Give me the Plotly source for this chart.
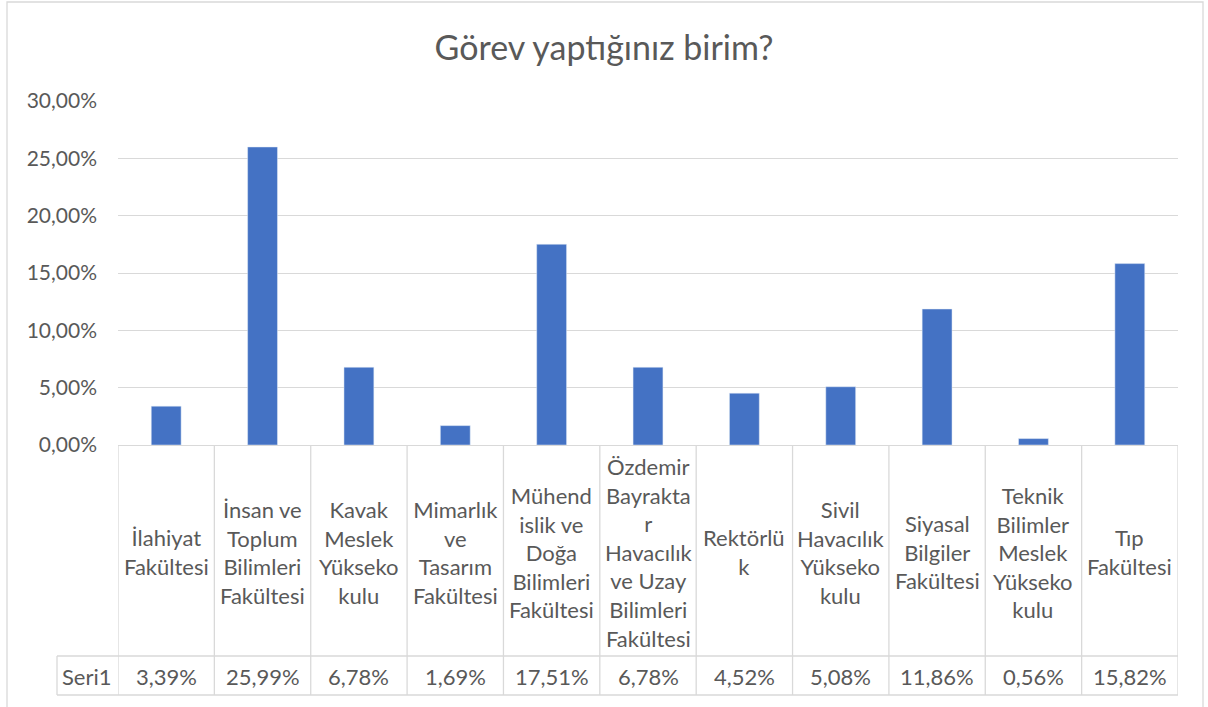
import plotly.graph_objects as go

categories = [
    "İlahiyat<br>Fakültesi",
    "İnsan ve<br>Toplum<br>Bilimleri<br>Fakültesi",
    "Kavak<br>Meslek<br>Yükseko<br>kulu",
    "Mimarlık<br>ve<br>Tasarım<br>Fakültesi",
    "Mühend<br>islik ve<br>Doğa<br>Bilimleri<br>Fakültesi",
    "Özdemir<br>Bayrakta<br>r<br>Havacılık<br>ve Uzay<br>Bilimleri<br>Fakültesi",
    "Rektörlü<br>k",
    "Sivil<br>Havacılık<br>Yükseko<br>kulu",
    "Siyasal<br>Bilgiler<br>Fakültesi",
    "Teknik<br>Bilimler<br>Meslek<br>Yükseko<br>kulu",
    "Tıp<br>Fakültesi",
]
values = [0.0339, 0.2599, 0.0678, 0.0169, 0.1751, 0.0678, 0.0452, 0.0508, 0.1186, 0.0056, 0.1582]
series_name = "Seri1"
title = "Görev yaptığınız birim?"

W, H = 1208, 707
L, R, T, B = 118, 1178, 101, 445   # plot area in pixels
font = "Lato"
grey_text = "#595959"
line_col = "#D9D9D9"


def py(pix):
    # pixel row -> paper y
    return (B - pix) / (B - T)


def px_(pix):
    return (pix - L) / (R - L)


n = len(categories)
xs = list(range(n))

fig = go.Figure(go.Bar(
    x=xs, y=values, marker_color="#4472C4", width=0.31, name=series_name,
))

shapes = []
# vertical table lines at category boundaries
for i in range(n + 1):
    shapes.append(dict(type="line", xref="x", yref="paper", x0=i - 0.5, x1=i - 0.5,
                       y0=py(445), y1=py(695), line=dict(color=line_col, width=1.3)))
# horizontal lines of value row
for yy in (656, 695):
    shapes.append(dict(type="line", xref="paper", yref="paper", x0=px_(57), x1=1,
                       y0=py(yy), y1=py(yy), line=dict(color=line_col, width=1.3)))
shapes.append(dict(type="line", xref="paper", yref="paper", x0=px_(57), x1=px_(57),
                   y0=py(656), y1=py(695), line=dict(color=line_col, width=1.3)))
# chart border
shapes.append(dict(type="rect", xref="paper", yref="paper", x0=px_(7), x1=px_(1203),
                   y0=py(712), y1=py(2), line=dict(color=line_col, width=1.3)))

annotations = []
for i, (c, v) in enumerate(zip(categories, values)):
    annotations.append(dict(x=i, xref="x", y=py(552), yref="paper", text=c, showarrow=False,
                            xanchor="center", yanchor="middle", align="center",
                            font=dict(family=font, size=22, color=grey_text)))
    annotations.append(dict(x=i, xref="x", y=py(676), yref="paper",
                            text=f"{v * 100:.2f}%".replace(".", ","), showarrow=False,
                            xanchor="center", yanchor="middle",
                            font=dict(family=font, size=22, color=grey_text)))
annotations.append(dict(x=px_(87), xref="paper", y=py(676), yref="paper", text=series_name,
                        showarrow=False, xanchor="center", yanchor="middle",
                        font=dict(family=font, size=22, color=grey_text)))

fig.update_layout(
    width=W, height=H,
    margin=dict(l=L, r=W - R, t=T, b=H - B),
    paper_bgcolor="white", plot_bgcolor="white",
    separators=",.",
    title=dict(text=title, x=0.5, xanchor="center", y=1 - 48 / H, yanchor="middle",
               font=dict(family=font, size=34, color=grey_text)),
    showlegend=False,
    bargap=0.69,
    xaxis=dict(range=[-0.5, n - 0.5], showticklabels=False, showgrid=False, zeroline=False,
               showline=True, linecolor=line_col, linewidth=1.3, ticks=""),
    yaxis=dict(range=[0, 0.30], dtick=0.05, tickformat=".2%", showgrid=True, gridcolor=line_col,
               gridwidth=1.3, zeroline=False, showline=False, ticks="",
               ticklabelstandoff=20,
               tickfont=dict(family=font, size=21, color=grey_text)),
    shapes=shapes,
    annotations=annotations,
)

# drop the default page margin so the figure sits at the window's top-left corner
fig.write_html("out.html", config={"displayModeBar": False},
               post_script="document.body.style.margin='0px';")
